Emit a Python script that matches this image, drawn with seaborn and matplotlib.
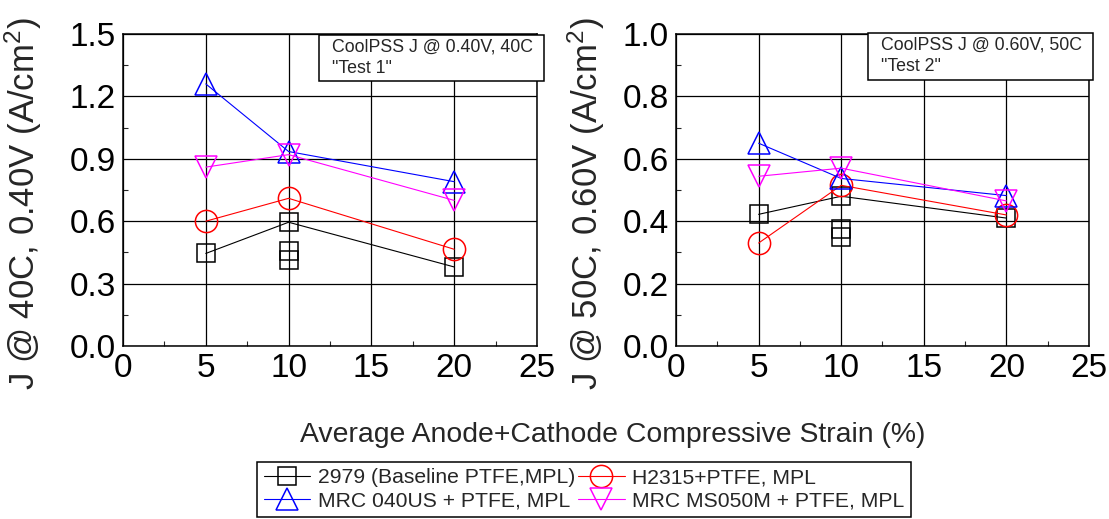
import matplotlib
matplotlib.use("Agg")
import matplotlib.pyplot as plt
from matplotlib.patches import Rectangle
from matplotlib.ticker import MultipleLocator
import seaborn as sns
import numpy as np

# ---------------- data ----------------
strain = [5, 10, 20]

series_labels = ["2979 (Baseline PTFE,MPL)", "H2315+PTFE, MPL",
                 "MRC 040US + PTFE, MPL", "MRC MS050M + PTFE, MPL"]

# Test 1: J @ 0.40 V, 40C
t1_baseline = [0.445, 0.595, 0.38]
t1_h2315 = [0.60, 0.71, 0.465]
t1_mrc040us = [1.26, 0.935, 0.79]
t1_ms050m = [0.86, 0.92, 0.70]
t1_baseline_repeat_x = [10, 10]
t1_baseline_repeat_y = [0.455, 0.413]

# Test 2: J @ 0.60 V, 50C
t2_baseline = [0.422, 0.48, 0.41]
t2_h2315 = [0.33, 0.515, 0.42]
t2_mrc040us = [0.65, 0.537, 0.482]
t2_ms050m = [0.544, 0.57, 0.465]
t2_baseline_repeat_x = [10, 10]
t2_baseline_repeat_y = [0.375, 0.35]

x_ticks = [0, 5, 10, 15, 20, 25]
y1_ticks = [0.0, 0.3, 0.6, 0.9, 1.2, 1.5]
y2_ticks = [0.0, 0.2, 0.4, 0.6, 0.8, 1.0]

# ---------------- style ----------------
sns.set_style("white")
plt.rcParams["font.family"] = ["Liberation Sans", "DejaVu Sans"]
plt.rcParams["mathtext.default"] = "regular"

colors = ["black", "#ff0000", "#0000ff", "#ff00ff"]
markers = ["s", "o", "^", "v"]
msizes = [13, 16, 16, 16]

fig = plt.figure(figsize=(11.09, 5.19), dpi=100)
W, H = 1109, 519


def px_axes(l, t, r, b):
    return fig.add_axes([l / W, 1 - b / H, (r - l) / W, (b - t) / H])


ax1 = px_axes(123, 34, 537, 346)
ax2 = px_axes(676, 34, 1089, 346)

handles = []


def draw(ax, ys, rep_x, rep_y, yticks, ylabel, ylab_x, box_px, box_text, collect):
    for i, y in enumerate(ys):
        sns.lineplot(x=strain, y=y, ax=ax, color=colors[i], marker=markers[i],
                     markersize=msizes[i], markerfacecolor="none",
                     markeredgecolor=colors[i], markeredgewidth=1.1,
                     linewidth=0.8, estimator=None, sort=False,
                     label=series_labels[i], legend=False)
        if collect:
            handles.append(ax.lines[-1])
    ax.plot(rep_x, rep_y, linestyle="none", marker=markers[0],
            markersize=msizes[0], markerfacecolor="none",
            markeredgecolor=colors[0], markeredgewidth=1.1)
    ax.set_xlim(0, 25)
    ax.set_ylim(yticks[0], yticks[-1])
    ax.set_xticks(x_ticks)
    ax.set_yticks(yticks)
    ax.set_yticklabels([f"{v:.1f}" for v in yticks])
    ax.xaxis.set_minor_locator(MultipleLocator(2.5))
    ax.yaxis.set_minor_locator(MultipleLocator((yticks[1] - yticks[0]) / 2))
    ax.grid(True, which="major", color="black", linewidth=0.9)
    ax.tick_params(which="major", direction="in", length=0, labelsize=24,
                   pad=5, colors="black")
    ax.tick_params(which="minor", direction="in", length=3.5, width=0.8,
                   left=True, bottom=True, right=False, top=False)
    for s in ax.spines.values():
        s.set_color("black")
        s.set_linewidth(1.1)
    ax.set_xlabel("")
    ax.set_ylabel(ylabel, fontsize=25)
    ax.yaxis.set_label_coords(ylab_x, 0.455)
    # inset text box
    l, t, r, b = box_px
    fig.patches.append(Rectangle((l / W, 1 - b / H), (r - l) / W, (b - t) / H,
                                 transform=fig.transFigure, facecolor="white",
                                 edgecolor="black", linewidth=1.1, zorder=5))
    fig.text((l + 13) / W, 1 - (t + 4) / H, box_text, fontsize=12.8,
             va="top", ha="left", linespacing=1.3, zorder=6)


draw(ax1, [t1_baseline, t1_h2315, t1_mrc040us, t1_ms050m],
     t1_baseline_repeat_x, t1_baseline_repeat_y, y1_ticks,
     "J @ 40C, 0.40V (A/cm$^{2}$)", -0.191, (319, 35, 544, 81),
     'CoolPSS J @ 0.40V, 40C\n"Test 1"', True)
draw(ax2, [t2_baseline, t2_h2315, t2_mrc040us, t2_ms050m],
     t2_baseline_repeat_x, t2_baseline_repeat_y, y2_ticks,
     "J @ 50C, 0.60V (A/cm$^{2}$)", -0.167, (868, 33, 1093, 80),
     'CoolPSS J @ 0.60V, 50C\n"Test 2"', False)

fig.text(613 / W, 1 - 442 / H, "Average Anode+Cathode Compressive Strain (%)",
         fontsize=20.4, ha="center", va="baseline")

# column-wise fill: order so rows read baseline | H2315, MRC040US | MS050M
order = [0, 2, 1, 3]
leg = fig.legend(handles=[handles[i] for i in order],
                 labels=[series_labels[i] for i in order], ncol=2,
                 loc="upper center", bbox_to_anchor=(584 / W, 1 - 462 / H),
                 fontsize=15.2, frameon=True, fancybox=False, framealpha=1,
                 edgecolor="black", handlelength=2.2, handletextpad=0.35,
                 columnspacing=0.15, labelspacing=0.2, borderpad=0.3,
                 borderaxespad=0)
leg.get_frame().set_linewidth(1.1)

fig.savefig("out.png", dpi=100)
